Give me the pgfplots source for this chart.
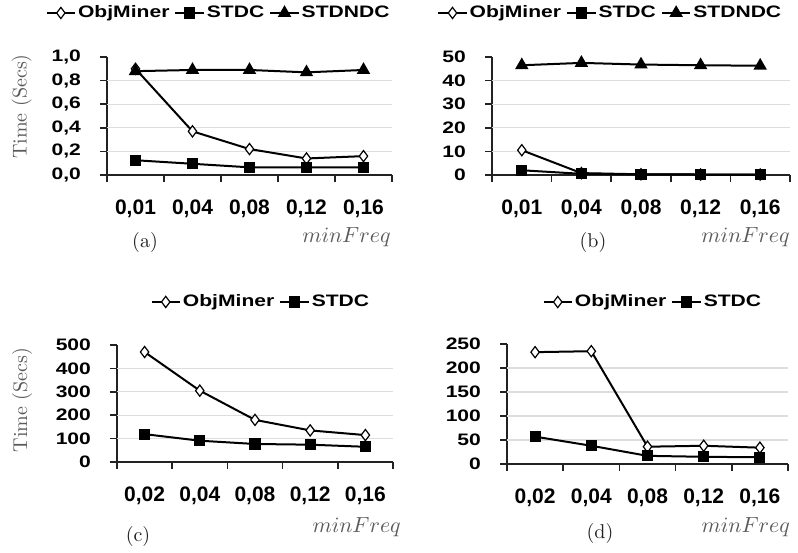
\documentclass[border=0pt]{standalone}
\usepackage{fontspec}
\newfontfamily\chartfont{Liberation Sans}
\usepackage{graphicx}
\usepackage{pgfplots}
\pgfplotsset{compat=1.18}

% the source picture is stretched sideways: widen legend and y tick text
\newcommand{\sx}[1]{\scalebox{1.27}[1]{#1}}

\definecolor{gridgray}{HTML}{DDDDDD}
\definecolor{axisgray}{HTML}{222222}
\definecolor{labelgray}{HTML}{5A5A5A}

\pgfplotsset{
  panel/.style={
    scale only axis,
    anchor=south west,
    xmin=-0.5, xmax=4.5, ymin=0,
    axis lines=left,
    axis line style={-, line width=0.8pt, draw=axisgray},
    tick style={line width=0.8pt, draw=axisgray},
    tick align=outside,
    major tick length=3.5pt,
    xtick={-0.5,0.5,1.5,2.5,3.5,4.5},
    xticklabels={},
    extra x ticks={0,1,2,3,4},
    extra x tick style={major tick length=0pt,
      xticklabel style={yshift=-9pt}},
    xticklabel style={font=\chartfont\bfseries\fontsize{10.5}{11}\selectfont},
    yticklabel style={xshift=-6pt, font=\chartfont\bfseries\fontsize{8.3}{10}\selectfont},
    extra y tick style={grid=major, major tick length=0pt},
    extra y tick labels={},
    grid style={draw=gridgray, line width=0.6pt},
    legend columns=-1,
    legend style={draw=none, fill=none, inner sep=0pt, anchor=west,
      font=\chartfont\bfseries\fontsize{8.3}{10}\selectfont,
      /tikz/every even column/.append style={column sep=1.5pt},
      nodes={inner sep=1pt}},
    legend image code/.code={\draw[mark repeat=2,mark phase=2]
      plot coordinates {(0cm,0cm) (0.25cm,0cm) (0.5cm,0cm)};},
    xlabel={$minFreq$},
    xlabel style={at={(axis description cs:1.02,-0.53)}, anchor=east,
      text=labelgray, font=\fontsize{11}{12}\selectfont},
    ylabel style={text=labelgray, font=\fontsize{10}{12}\selectfont},
    clip=false,
  },
  obj/.style={black, line width=1pt, mark=diamond*, mark size=2.8pt,
    mark options={fill=white, draw=black, line width=0.6pt}},
  stdc/.style={black, line width=1pt, mark=square*, mark size=2.3pt,
    mark options={fill=black}},
  stdndc/.style={black, line width=1pt, mark=triangle*, mark size=2.9pt,
    mark options={fill=black}},
}

\begin{document}
\begin{tikzpicture}
\useasboundingbox (0,0) rectangle (399pt,276pt);

% (a)
\begin{axis}[panel, at={(53.5pt,188.5pt)}, width=142.5pt, height=59pt,
  ymax=1,
  ytick={0,0.2,0.4,0.6,0.8,1},
  yticklabels={{\sx{0,0}},{\sx{0,2}},{\sx{0,4}},{\sx{0,6}},{\sx{0,8}},{\sx{1,0}}},
  extra y ticks={0.2,0.4,0.6,0.8},
  extra x tick labels={{0,01},{0,04},{0,08},{0,12},{0,16}},
  ylabel={Time (Secs)},
  ylabel style={at={(axis description cs:-0.30,0.58)}, anchor=center},
  legend style={at={(1.0,1.373)}, anchor=east},
]
\addplot[obj] coordinates {(0,0.90) (1,0.37) (2,0.22) (3,0.14) (4,0.16)};
\addplot[stdc] coordinates {(0,0.125) (1,0.095) (2,0.065) (3,0.065) (4,0.065)};
\addplot[stdndc] coordinates {(0,0.88) (1,0.89) (2,0.89) (3,0.87) (4,0.89)};
\legend{\sx{ObjMiner},\sx{STDC},\sx{STDNDC}}
\end{axis}

% (b)
\begin{axis}[panel, at={(246pt,188.5pt)}, width=149pt, height=59pt,
  ymax=50,
  ytick={0,10,20,30,40,50},
  yticklabels={\sx{0},\sx{10},\sx{20},\sx{30},\sx{40},\sx{50}},
  extra y ticks={10,20,30,40},
  extra x tick labels={{0,01},{0,04},{0,08},{0,12},{0,16}},
  legend style={at={(-0.185,1.373)}},
  xlabel style={at={(axis description cs:1.023,-0.53)}},
]
\addplot[obj] coordinates {(0,10.5) (1,0.8) (2,0.3) (3,0.2) (4,0.2)};
\addplot[stdc] coordinates {(0,2.0) (1,0.5) (2,0.3) (3,0.2) (4,0.2)};
\addplot[stdndc] coordinates {(0,46.5) (1,47.5) (2,46.8) (3,46.5) (4,46.3)};
\legend{\sx{ObjMiner},\sx{STDC},\sx{STDNDC}}
\end{axis}

% (c)
\begin{axis}[panel, at={(58.5pt,45pt)}, width=138pt, height=58.5pt,
  ymax=500,
  ytick={0,100,200,300,400,500},
  yticklabels={\sx{0},\sx{100},\sx{200},\sx{300},\sx{400},\sx{500}},
  extra y ticks={100,200,300,400},
  extra x tick labels={{0,02},{0,04},{0,08},{0,12},{0,16}},
  ylabel={Time (Secs)},
  ylabel style={at={(axis description cs:-0.344,0.53)}, anchor=center},
  legend style={at={(0.12,1.368)}},
  xlabel style={at={(axis description cs:1.054,-0.556)}},
]
\addplot[obj] coordinates {(0,470) (1,305) (2,180) (3,135) (4,115)};
\addplot[stdc] coordinates {(0,119) (1,91) (2,77) (3,74) (4,65)};
\legend{\sx{ObjMiner},\sx{STDC}}
\end{axis}

% (d)
\begin{axis}[panel, at={(253.5pt,44pt)}, width=140.5pt, height=60pt,
  ymax=250,
  ytick={0,50,100,150,200,250},
  yticklabels={\sx{0},\sx{50},\sx{100},\sx{150},\sx{200},\sx{250}},
  extra y ticks={50,100,150,200},
  extra x tick labels={{0,02},{0,04},{0,08},{0,12},{0,16}},
  legend style={at={(0.125,1.35)}},
  xlabel style={at={(axis description cs:1.032,-0.525)}},
]
\addplot[obj] coordinates {(0,233) (1,235) (2,36) (3,38) (4,34)};
\addplot[stdc] coordinates {(0,57) (1,38) (2,17) (3,15) (4,14)};
\legend{\sx{ObjMiner},\sx{STDC}}
\end{axis}

\node[text=axisgray, font=\fontsize{10}{12}\selectfont] at (72.5pt,154.5pt) {(a)};
\node[text=axisgray, font=\fontsize{10}{12}\selectfont] at (296.5pt,154.5pt) {(b)};
\node[text=axisgray, font=\fontsize{10}{12}\selectfont] at (69pt,8pt) {(c)};
\node[text=axisgray, font=\fontsize{10}{12}\selectfont] at (300pt,9.5pt) {(d)};
\end{tikzpicture}
\end{document}
